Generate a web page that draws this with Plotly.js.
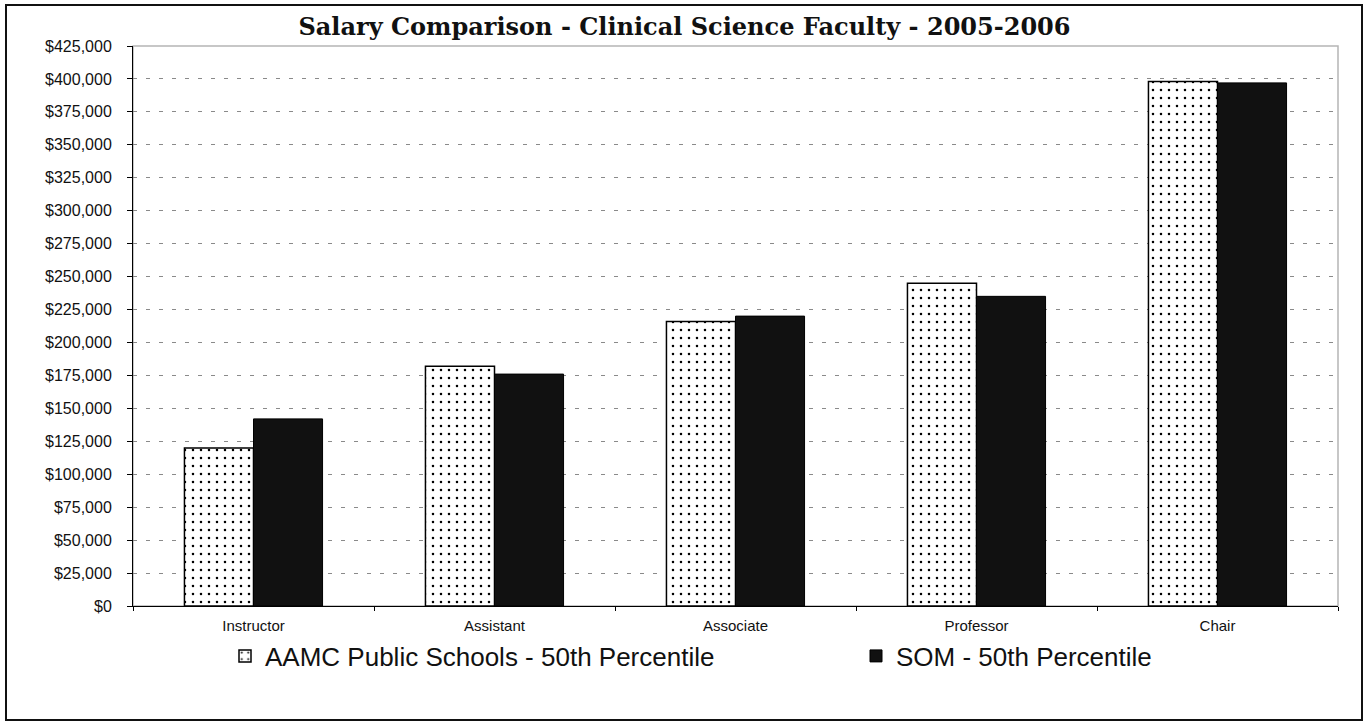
<!DOCTYPE html>
<html>
<head>
<meta charset="utf-8">
<script src="https://cdn.plot.ly/plotly-3.0.1.min.js"></script>
<style>
html,body{margin:0;padding:0;background:#fff;}
#chart{width:1369px;height:726px;}
</style>
</head>
<body>
<div id="chart"></div>
<script>
const categories = ["Instructor", "Assistant", "Associate", "Professor", "Chair"];
const aamcValues = [120000, 182000, 216000, 245000, 398000];
const somValues = [142000, 176000, 220000, 235000, 397000];
const seriesNames = ["AAMC Public Schools - 50th Percentile", "SOM - 50th Percentile"];
const tickValues = [0,25000,50000,75000,100000,125000,150000,175000,200000,225000,250000,275000,300000,325000,350000,375000,400000,425000];
const tickLabels = ["$0","$25,000","$50,000","$75,000","$100,000","$125,000","$150,000","$175,000","$200,000","$225,000","$250,000","$275,000","$300,000","$325,000","$350,000","$375,000","$400,000","$425,000"];
const titleText = "Salary Comparison - Clinical Science Faculty - 2005-2006";

const traces = [
  {
    type: "bar",
    name: seriesNames[0],
    x: categories,
    y: aamcValues,
    legend: "legend",
    marker: {
      color: "#ffffff",
      line: {color: "#000000", width: 1.5},
      pattern: {shape: ".", fgcolor: "#000000", bgcolor: "#ffffff", size: 8, solidity: 0.08}
    },
    hoverinfo: "skip"
  },
  {
    type: "bar",
    name: seriesNames[1],
    x: categories,
    y: somValues,
    legend: "legend2",
    marker: {color: "#111111", line: {color: "#000000", width: 1}},
    hoverinfo: "skip"
  }
];

const L = 133, R = 31, T = 46, B = 120, W = 1369, H = 726;
const pw = W - L - R, ph = H - T - B;
function px2x(p){ return (p - L) / pw; }
function px2y(p){ return (H - B - p) / ph; }

const legendFont = {size: 26, family: "Liberation Sans, Arial, sans-serif", color: "#111"};

const layout = {
  width: W, height: H,
  paper_bgcolor: "#ffffff",
  plot_bgcolor: "#ffffff",
  margin: {l: L, r: R, t: T, b: B},
  barmode: "group",
  bargap: 0.427,
  bargroupgap: 0,
  showlegend: true,
  title: {
    text: "<b>" + titleText + "</b>",
    font: {family: "DejaVu Serif, serif", size: 24, color: "#111"},
    x: 0.5, xref: "container", xanchor: "center",
    y: 1 - 27/H, yref: "container", yanchor: "middle"
  },
  font: {family: "Liberation Sans, Arial, sans-serif", color: "#111"},
  xaxis: {
    type: "category",
    tickson: "boundaries",
    ticks: "outside",
    ticklen: 4,
    tickcolor: "#000",
    showline: true,
    linecolor: "#000",
    linewidth: 1,
    showgrid: false,
    ticklabelstandoff: 6,
    tickfont: {size: 15, family: "Liberation Sans, Arial, sans-serif"},
    zeroline: false
  },
  yaxis: {
    range: [0, 425000],
    tickvals: tickValues,
    ticktext: tickLabels,
    ticks: "outside",
    ticklen: 5,
    tickcolor: "#000",
    showline: true,
    linecolor: "#000",
    linewidth: 1,
    showgrid: true,
    gridcolor: "#8a8a8a",
    gridwidth: 1,
    griddash: "4px,9px",
    zeroline: false,
    ticklabelstandoff: 12,
    tickfont: {size: 16, family: "Liberation Sans, Arial, sans-serif"}
  },
  legend: {
    orientation: "h",
    x: px2x(225), xanchor: "left",
    y: px2y(656), yanchor: "middle",
    font: legendFont,
    bgcolor: "rgba(0,0,0,0)"
  },
  legend2: {
    orientation: "h",
    x: px2x(856), xanchor: "left",
    y: px2y(656), yanchor: "middle",
    font: legendFont,
    bgcolor: "rgba(0,0,0,0)"
  },
  shapes: [
    {type: "rect", xref: "paper", yref: "paper", x0: 0, x1: 1, y0: 0, y1: 1,
     line: {color: "#b5b5b5", width: 1.5}, layer: "below"},
    {type: "rect", xref: "paper", yref: "paper",
     x0: px2x(6), x1: px2x(1362), y0: px2y(720), y1: px2y(5),
     line: {color: "#111", width: 2}, fillcolor: "rgba(0,0,0,0)"}
  ]
};

Plotly.newPlot("chart", traces, layout, {displayModeBar: false, staticPlot: true});
</script>
</body>
</html>
